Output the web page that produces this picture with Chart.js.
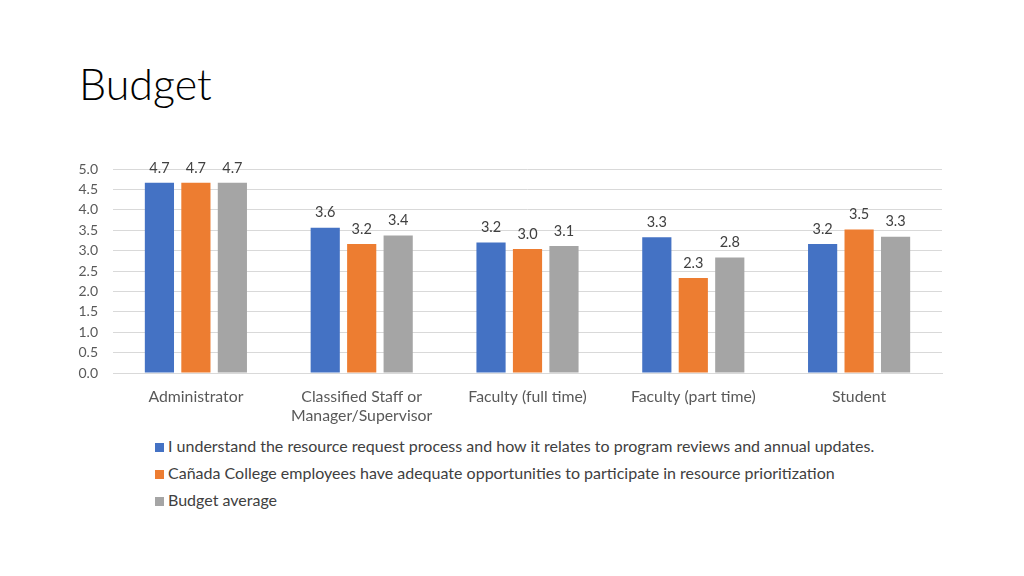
<!DOCTYPE html>
<html>
<head>
<meta charset="utf-8">
<script src="https://cdn.jsdelivr.net/npm/chart.js@4/dist/chart.umd.min.js"></script>
<style>
  body { margin:0; width:1024px; height:576px; background:#fff; position:relative; overflow:hidden; font-family:Lato, "Open Sans", sans-serif; }
  #title { position:absolute; left:79px; top:56px; font-size:43px; font-weight:300; color:#000; margin:0; line-height:56px; }
  #wrap { position:absolute; left:60px; top:150px; width:890px; height:278px; }
  #legend { position:absolute; left:155px; top:436px; font-size:16px; color:#404040; }
  #legend div { height:27px; line-height:20px; white-space:nowrap; }
  #legend span { display:inline-block; width:9px; height:9px; margin-right:4px; vertical-align:0px; }
</style>
</head>
<body>
<h1 id="title">Budget</h1>
<div id="wrap"><canvas id="chart"></canvas></div>
<div id="legend"></div>
<script>
const categories = ["Administrator", ["Classified Staff or", "Manager/Supervisor"], "Faculty (full time)", "Faculty (part time)", "Student"];
const seriesNames = [
  "I understand the resource request process and how it relates to program reviews and annual updates.",
  "Cañada College employees have adequate opportunities to participate in resource prioritization",
  "Budget average"
];
const understand = [4.66, 3.56, 3.20, 3.33, 3.16];
const opportunities = [4.66, 3.16, 3.04, 2.33, 3.52];
const budgetAvg = [4.66, 3.37, 3.11, 2.83, 3.34];
const yTicks = [0, 0.5, 1, 1.5, 2, 2.5, 3, 3.5, 4, 4.5, 5];
const barColors = ["#4472C4", "#ED7D31", "#A5A5A5"];

const ctx = document.querySelector("#chart").getContext('2d');

// value labels above each bar
const barLabels = {
  id: 'barLabels',
  afterDatasetsDraw(chart) {
    const c = chart.ctx;
    c.save();
    c.font = '14.5px Lato, "Open Sans", sans-serif';
    c.fillStyle = '#404040';
    c.textAlign = 'center';
    c.textBaseline = 'middle';
    chart.data.datasets.forEach((ds, i) => {
      chart.getDatasetMeta(i).data.forEach((bar, j) => {
        c.fillText(ds.data[j].toFixed(1), bar.x, bar.y - 15);
      });
    });
    c.restore();
  }
};

const chart = new Chart(ctx, {
  type: 'bar',
  data: {
    labels: categories,
    datasets: [
      { label: seriesNames[0], data: understand, backgroundColor: barColors[0] },
      { label: seriesNames[1], data: opportunities, backgroundColor: barColors[1] },
      { label: seriesNames[2], data: budgetAvg, backgroundColor: barColors[2] }
    ]
  },
  options: {
    responsive: true,
    maintainAspectRatio: false,
    animation: false,
    datasets: { bar: { categoryPercentage: 0.66, barPercentage: 0.8 } },
    layout: { padding: { top: 19, right: 8, left: 0, bottom: 0 } },
    plugins: { legend: { display: false }, tooltip: { enabled: false } },
    scales: {
      y: {
        min: 0, max: 5,
        afterFit: (s) => { s.width = 53; s.paddingTop = 0; },
        afterBuildTicks: (s) => { s.ticks = yTicks.map(v => ({ value: v })); },
        border: { display: false },
        grid: { color: '#d9d9d9', drawTicks: false },
        ticks: {
          padding: 15,
          color: '#595959',
          font: { family: 'Lato, "Open Sans", sans-serif', size: 14 },
          callback: (v) => v.toFixed(1)
        }
      },
      x: {
        afterFit: (s) => { s.height = 55; },
        border: { color: '#d9d9d9' },
        grid: { display: false, drawTicks: false },
        ticks: {
          padding: 14,
          color: '#595959',
          maxRotation: 0,
          font: { family: 'Lato, "Open Sans", sans-serif', size: 15.8 }
        }
      }
    }
  },
  plugins: [barLabels]
});

// legend under the chart
const legend = document.querySelector('#legend');
chart.data.datasets.forEach(ds => {
  const row = document.createElement('div');
  const sw = document.createElement('span');
  sw.style.background = ds.backgroundColor;
  row.appendChild(sw);
  row.appendChild(document.createTextNode(ds.label));
  legend.appendChild(row);
});
</script>
</body>
</html>
